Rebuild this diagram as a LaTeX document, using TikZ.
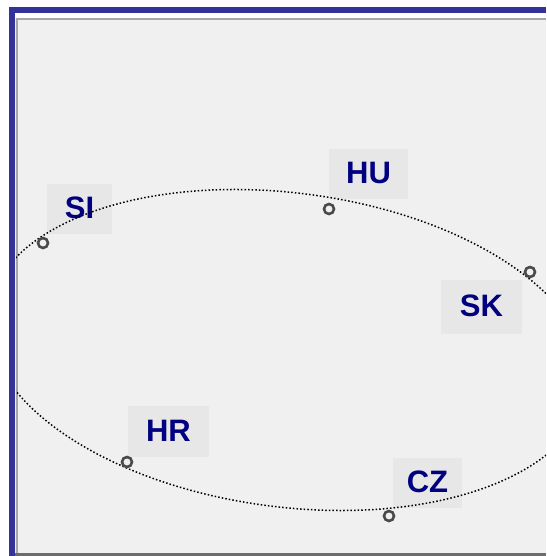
\documentclass[tikz,border=0pt]{standalone}
\usepackage{fontspec}
\setmainfont{Liberation Sans}
\definecolor{frameblue}{HTML}{333399}
\definecolor{panelbg}{HTML}{F0F0F0}
\definecolor{boxbg}{HTML}{E7E7E7}
\definecolor{labnavy}{HTML}{000080}
\definecolor{ringgray}{HTML}{4A4A4A}
\tikzset{
  lab/.style={fill=boxbg, text=labnavy, font=\fontsize{31}{31}\selectfont\bfseries,
    inner sep=0pt, text height=22.5pt, text depth=3pt, minimum height=50pt, align=center},
  ringdot/.style={circle, draw=ringgray, line width=2.6pt, fill=panelbg, minimum size=10pt, inner sep=0pt},
  orbit/.style={line width=1.5pt, dash pattern=on 1.5pt off 2.1pt}
}
\begin{document}
\begin{tikzpicture}[x=1pt,y=1pt]
\useasboundingbox (0,0) rectangle (546,556);
\fill[white] (0,0) rectangle (546,556);
% panel
\fill[panelbg] (15,0) rectangle (546,543);
\fill[white] (15,538) rectangle (546,543);
\fill[gray!70] (16,536) rectangle (546,538);
\fill[gray!70] (16,3) rectangle (18,538);
\fill[gray!85!black] (15,0) rectangle (546,3);
% frame
\fill[frameblue] (9,543) rectangle (546,549);
\fill[frameblue] (9,0) rectangle (15,549);
% labels
\node[lab, minimum width=65pt] (si) at (79.5,347) {SI};
\node[lab, minimum width=79pt] (hu) at (368.5,382) {HU};
\node[lab, minimum width=81pt, minimum height=54pt] (sk) at (481.5,249) {SK};
\node[lab, minimum width=81pt, minimum height=51pt] (hr) at (168.5,124.5) {HR};
\node[lab, minimum width=69pt] (cz) at (427.5,73) {CZ};
% ellipse
\begin{scope}
\clip (16,3) rectangle (546,536);
\draw[orbit] (288,206) ellipse [x radius=302, y radius=157, rotate=-7.4];
\end{scope}
% markers
\node[ringdot] (msi) at (43,313) {};
\node[ringdot] (mhu) at (329,347) {};
\node[ringdot] (msk) at (530,284) {};
\node[ringdot] (mhr) at (127,94) {};
\node[ringdot] (mcz) at (389,40) {};
\end{tikzpicture}
\end{document}
